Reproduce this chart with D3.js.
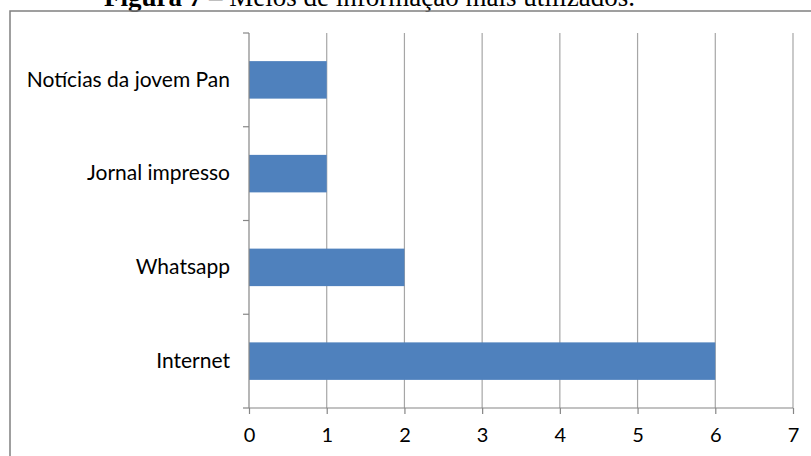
<!DOCTYPE html>
<html><head><meta charset="utf-8">
<script src="https://cdn.jsdelivr.net/npm/d3@7"></script>
<style>html,body{margin:0;padding:0;background:#fff;overflow:hidden}</style>
</head><body>
<svg id="c" width="811" height="456"></svg>
<script>
const categories = ["Notícias da jovem Pan", "Jornal impresso", "Whatsapp", "Internet"];
const values = [1, 1, 2, 6];
const xTicks = [0, 1, 2, 3, 4, 5, 6, 7];
const titleBold = "Figura 7";
const titleRest = " – Meios de informação mais utilizados.";

(function () {
const svg = d3.select("#c");
const t = svg.append("text").attr("x", 104).attr("y", 6)
  .attr("font-family", "Liberation Serif, Times New Roman, serif").attr("font-size", 27).attr("fill", "#000");
t.append("tspan").attr("font-weight", "bold").text(titleBold);
t.append("tspan").text(titleRest);

svg.append("rect").attr("x", 10).attr("y", 11).attr("width", 830).attr("height", 470)
  .attr("fill", "none").attr("stroke", "#808080").attr("stroke-width", 1.5);

const pL = 249, pR = 793, pT = 33, pB = 408;
const x = d3.scaleLinear().domain([0, 7]).range([pL, pR]);
const y = d3.scaleBand().domain(categories).range([pT, pB]).paddingInner(0.6).paddingOuter(0.3);

svg.append("g").selectAll("line").data(xTicks.filter(d => d > 0)).join("line")
  .attr("x1", d => x(d)).attr("x2", d => x(d)).attr("y1", pT).attr("y2", pB)
  .attr("stroke", "#a6a6a6").attr("stroke-width", 1.2);

svg.append("g").selectAll("rect").data(categories).join("rect")
  .attr("x", x(0)).attr("y", d => y(d))
  .attr("width", (d, i) => x(values[i]) - x(0)).attr("height", y.bandwidth())
  .attr("fill", "#4f81bd");

const xAxis = d3.axisBottom(x).tickValues(xTicks).tickSize(6).tickPadding(14).tickFormat(d3.format("d"));
const gx = svg.append("g").attr("transform", `translate(0,${pB})`).call(xAxis);
gx.select(".domain").attr("stroke", "#868686").attr("stroke-width", 1.2).attr("d", `M${pL},0H${pR}`);
gx.selectAll(".tick line").attr("stroke", "#868686").attr("stroke-width", 1.2);
gx.selectAll(".tick text").attr("font-family", "Lato, sans-serif").attr("font-size", 20).attr("fill", "#000");

const yAxis = d3.axisLeft(y).tickSize(0).tickPadding(19);
const gy = svg.append("g").attr("transform", `translate(${pL},0)`).call(yAxis);
gy.select(".domain").attr("stroke", "#868686").attr("stroke-width", 1.2).attr("d", `M0,${pT}V${pB}`);
gy.selectAll(".tick text").attr("font-family", "Lato, sans-serif").attr("font-size", 21).attr("fill", "#000");
const bounds = d3.range(categories.length + 1).map(i => pT + i * (pB - pT) / categories.length);
gy.append("g").selectAll("line").data(bounds).join("line")
  .attr("x1", -6).attr("x2", 0).attr("y1", d => d).attr("y2", d => d)
  .attr("stroke", "#868686").attr("stroke-width", 1.2);
})();
</script>
</body></html>
